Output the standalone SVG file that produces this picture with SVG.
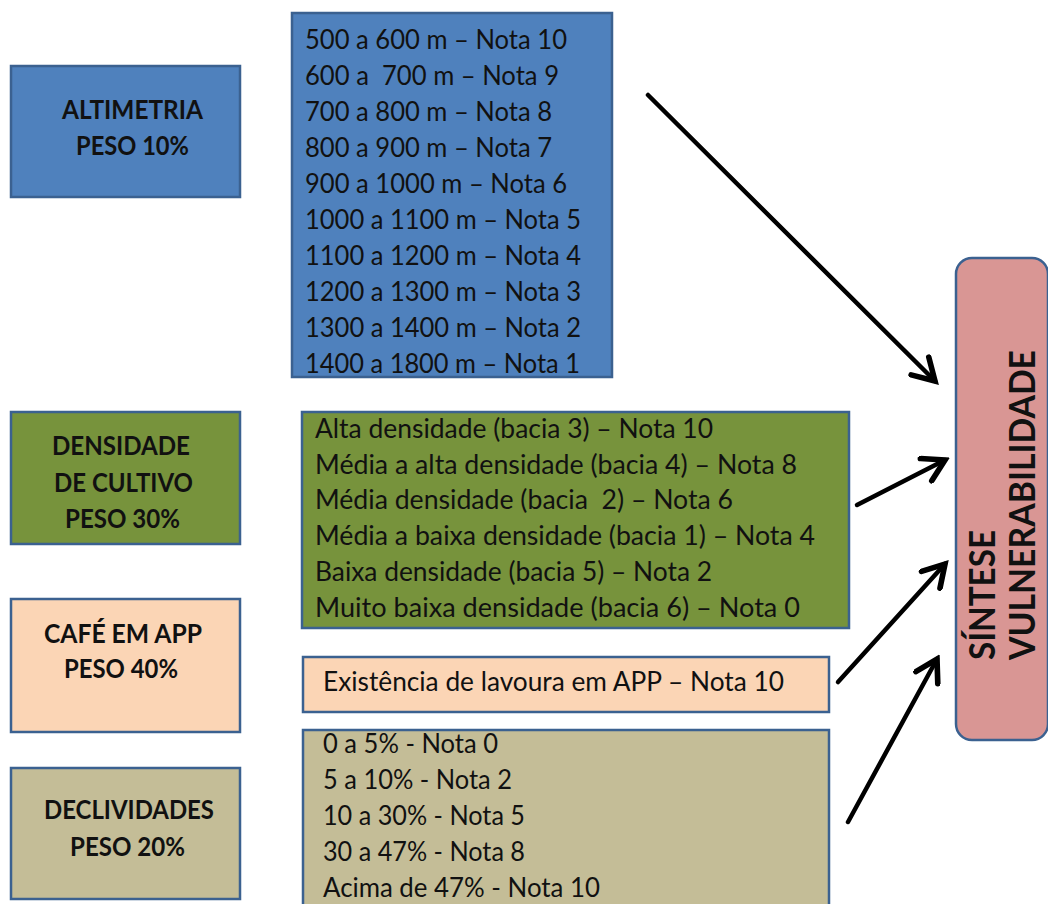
<svg xmlns="http://www.w3.org/2000/svg" width="1048" height="904" viewBox="0 0 1048 904">
  <defs>
    <style>
      .box { stroke: #3b6190; stroke-width: 2.5; }
      .blue { fill: #4f81bd; }
      .green { fill: #77933c; }
      .peach { fill: #fbd5b5; }
      .tan { fill: #c4bd97; }
      .pink { fill: #d99694; }
      text { font-family: Lato, "Open Sans", "Liberation Sans", sans-serif; fill: #111; white-space: pre; }
      .item { font-size: 27px; }
      .label { font-size: 26px; font-weight: bold; }
      .title { font-size: 36px; font-weight: bold; }
      .conn { stroke: #000; stroke-width: 4.5; fill: none; stroke-linecap: round; }
    </style>
    <marker id="arrow" markerUnits="userSpaceOnUse" markerWidth="30" markerHeight="30" viewBox="-20 -12 24 24" refX="0" refY="0" orient="auto">
      <path d="M-17,-10 L0,0 L-17,10" fill="none" stroke="#000" stroke-width="4.5" stroke-linecap="round" stroke-linejoin="miter"/>
    </marker>
  </defs>

  <rect width="1048" height="904" fill="#fff"/>

  <!-- Altimetria -->
  <g id="altimetria">
    <rect class="box blue" x="11" y="66" width="229" height="131"/>
    <text class="label" x="62" y="119" textLength="141" lengthAdjust="spacingAndGlyphs">ALTIMETRIA</text>
    <text class="label" x="76" y="155" textLength="113" lengthAdjust="spacingAndGlyphs">PESO 10%</text>
  </g>
  <g id="altimetria-notas">
    <rect class="box blue" x="292" y="13" width="320" height="364"/>
    <text class="item" x="305" y="49" textLength="262" lengthAdjust="spacingAndGlyphs">500 a 600 m – Nota 10</text>
    <text class="item" x="305" y="85" textLength="254" lengthAdjust="spacingAndGlyphs">600 a  700 m – Nota 9</text>
    <text class="item" x="305" y="121" textLength="247" lengthAdjust="spacingAndGlyphs">700 a 800 m – Nota 8</text>
    <text class="item" x="305" y="157" textLength="247" lengthAdjust="spacingAndGlyphs">800 a 900 m – Nota 7</text>
    <text class="item" x="305" y="193" textLength="262" lengthAdjust="spacingAndGlyphs">900 a 1000 m – Nota 6</text>
    <text class="item" x="305" y="229" textLength="276" lengthAdjust="spacingAndGlyphs">1000 a 1100 m – Nota 5</text>
    <text class="item" x="305" y="265" textLength="276" lengthAdjust="spacingAndGlyphs">1100 a 1200 m – Nota 4</text>
    <text class="item" x="305" y="301" textLength="276" lengthAdjust="spacingAndGlyphs">1200 a 1300 m – Nota 3</text>
    <text class="item" x="305" y="337" textLength="276" lengthAdjust="spacingAndGlyphs">1300 a 1400 m – Nota 2</text>
    <text class="item" x="305" y="373" textLength="275" lengthAdjust="spacingAndGlyphs">1400 a 1800 m – Nota 1</text>
  </g>

  <!-- Densidade de cultivo -->
  <g id="densidade">
    <rect class="box green" x="11" y="412" width="229" height="132"/>
    <text class="label" x="52" y="455" textLength="138" lengthAdjust="spacingAndGlyphs">DENSIDADE</text>
    <text class="label" x="54" y="492" textLength="139" lengthAdjust="spacingAndGlyphs">DE CULTIVO</text>
    <text class="label" x="65" y="528" textLength="115" lengthAdjust="spacingAndGlyphs">PESO 30%</text>
  </g>
  <g id="densidade-notas">
    <rect class="box green" x="302" y="412" width="547" height="216"/>
    <text class="item" x="315" y="438" textLength="398" lengthAdjust="spacingAndGlyphs">Alta densidade (bacia 3) – Nota 10</text>
    <text class="item" x="315" y="474" textLength="482" lengthAdjust="spacingAndGlyphs">Média a alta densidade (bacia 4) – Nota 8</text>
    <text class="item" x="315" y="509" textLength="418" lengthAdjust="spacingAndGlyphs">Média densidade (bacia  2) – Nota 6</text>
    <text class="item" x="315" y="545" textLength="500" lengthAdjust="spacingAndGlyphs">Média a baixa densidade (bacia 1) – Nota 4</text>
    <text class="item" x="315" y="581" textLength="397" lengthAdjust="spacingAndGlyphs">Baixa densidade (bacia 5) – Nota 2</text>
    <text class="item" x="315" y="617" textLength="485" lengthAdjust="spacingAndGlyphs">Muito baixa densidade (bacia 6) – Nota 0</text>
  </g>

  <!-- Café em APP -->
  <g id="cafe-app">
    <rect class="box peach" x="11" y="599" width="229" height="133"/>
    <text class="label" x="44" y="643" textLength="158" lengthAdjust="spacingAndGlyphs">CAFÉ EM APP</text>
    <text class="label" x="64" y="678" textLength="114" lengthAdjust="spacingAndGlyphs">PESO 40%</text>
  </g>
  <g id="cafe-app-notas">
    <rect class="box peach" x="303" y="657" width="526" height="55"/>
    <text class="item" x="323" y="691" textLength="461" lengthAdjust="spacingAndGlyphs">Existência de lavoura em APP – Nota 10</text>
  </g>

  <!-- Declividades -->
  <g id="declividades">
    <rect class="box tan" x="11" y="768" width="229" height="131"/>
    <text class="label" x="44" y="819" textLength="170" lengthAdjust="spacingAndGlyphs">DECLIVIDADES</text>
    <text class="label" x="70" y="856" textLength="115" lengthAdjust="spacingAndGlyphs">PESO 20%</text>
  </g>
  <g id="declividades-notas">
    <rect class="box tan" x="303" y="730" width="526" height="185"/>
    <text class="item" x="323" y="753" textLength="175" lengthAdjust="spacingAndGlyphs">0 a 5% - Nota 0</text>
    <text class="item" x="323" y="789" textLength="189" lengthAdjust="spacingAndGlyphs">5 a 10% - Nota 2</text>
    <text class="item" x="323" y="825" textLength="202" lengthAdjust="spacingAndGlyphs">10 a 30% - Nota 5</text>
    <text class="item" x="323" y="861" textLength="202" lengthAdjust="spacingAndGlyphs">30 a 47% - Nota 8</text>
    <text class="item" x="323" y="897" textLength="277" lengthAdjust="spacingAndGlyphs">Acima de 47% - Nota 10</text>
  </g>

  <!-- Síntese -->
  <g id="sintese">
    <rect class="box pink" x="956" y="258" width="92" height="482" rx="16" ry="16"/>
    <text class="title" transform="translate(995,660) rotate(-90)" x="0" y="0" textLength="130" lengthAdjust="spacingAndGlyphs">SÍNTESE</text>
    <text class="title" transform="translate(1035,660) rotate(-90)" x="0" y="0" textLength="310" lengthAdjust="spacingAndGlyphs">VULNERABILIDADE</text>
  </g>

  <!-- Connectors -->
  <g id="connectors">
    <path class="conn" d="M648,95 L935,381" marker-end="url(#arrow)"/>
    <path class="conn" d="M857,505 L945,460" marker-end="url(#arrow)"/>
    <path class="conn" d="M838,682 L945,564" marker-end="url(#arrow)"/>
    <path class="conn" d="M848,822 L937,659" marker-end="url(#arrow)"/>
  </g>
</svg>
